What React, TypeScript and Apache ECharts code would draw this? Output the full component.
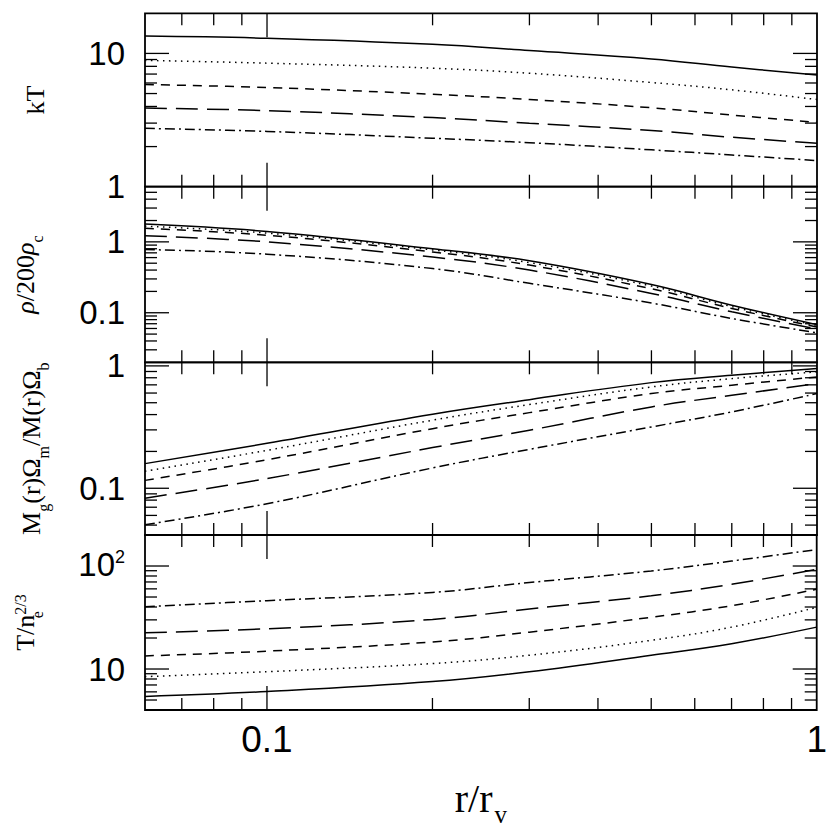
import React, { useEffect, useRef } from "react";
import * as echarts from "echarts";

// ---------- data ----------
const RADIUS = [0.06, 0.1, 0.2, 0.3, 0.5, 0.7, 1.0];

// panel 1 : kT
const KT_SOLID = [13.5, 13.0, 11.7, 10.5, 9.1, 7.9, 6.9];
const KT_DOTTED = [8.87, 8.45, 7.75, 7.1, 6.05, 5.33, 4.51];
const KT_SHORT = [5.84, 5.55, 4.94, 4.51, 3.91, 3.45, 3.04];
const KT_LONG = [3.89, 3.72, 3.3, 2.99, 2.64, 2.35, 2.12];
const KT_DOTDASH = [2.74, 2.6, 2.31, 2.14, 1.89, 1.73, 1.57];

// panel 2 : rho / 200 rho_c
const RHO_SOLID = [1.78, 1.4, 0.8, 0.54, 0.25, 0.128, 0.068];
const RHO_DOTTED = [1.66, 1.33, 0.77, 0.51, 0.238, 0.122, 0.066];
const RHO_SHORT = [1.55, 1.24, 0.72, 0.47, 0.218, 0.115, 0.063];
const RHO_LONG = [1.22, 1.0, 0.61, 0.4, 0.187, 0.103, 0.059];
const RHO_DOTDASH = [0.78, 0.67, 0.42, 0.26, 0.137, 0.083, 0.052];

// panel 3 : gas fraction
const FG_SOLID = [0.159, 0.233, 0.403, 0.53, 0.73, 0.84, 0.95];
const FG_DOTTED = [0.138, 0.204, 0.36, 0.483, 0.673, 0.787, 0.893];
const FG_SHORT = [0.116, 0.171, 0.307, 0.415, 0.594, 0.695, 0.813];
const FG_LONG = [0.083, 0.12, 0.215, 0.298, 0.462, 0.575, 0.716];
const FG_DOTDASH = [0.0504, 0.0748, 0.1466, 0.208, 0.317, 0.421, 0.594];

// panel 4 : entropy T / n_e^{2/3}
const ENT_SOLID = [5.42, 6.05, 7.55, 9.42, 13.6, 17.6, 25.5];
const ENT_DOTTED = [8.43, 9.42, 11.3, 13.6, 19.0, 25.5, 39.7];
const ENT_SHORT = [13.4, 14.9, 18.3, 22.8, 31.8, 41.2, 59.6];
const ENT_LONG = [22.5, 24.6, 30.3, 38.3, 51.5, 66.5, 92.8];
const ENT_DOTDASH = [40.3, 46.1, 55.4, 69.1, 89.5, 111.7, 144.5];

// axes
const X_MIN = 0.06;
const X_MAX = 1;
const X_MAJOR = [0.1];
const X_MINOR = [0.07, 0.08, 0.09, 0.2, 0.3, 0.4, 0.5, 0.6, 0.7, 0.8, 0.9];
const X_LABEL_VALUES = [0.1, 1];
const X_LABEL_TEXTS = ["0.1", "1"];

const Y_MIN = [1, 0.02, 0.0415, 4];
const Y_MAX = [20, 6, 1.07, 200];

const KT_MAJOR = [10];
const KT_MINOR = [2, 3, 4, 5, 6, 7, 8, 9];
const KT_LABEL_VALUES = [1, 10];
const KT_LABEL_TEXTS = ["1", "10"];

const RHO_MAJOR = [0.1, 1];
const RHO_MINOR = [0.03, 0.04, 0.05, 0.06, 0.07, 0.08, 0.09, 0.2, 0.3, 0.4, 0.5, 0.6, 0.7, 0.8, 0.9, 2, 3, 4, 5];
const RHO_LABEL_VALUES = [0.1, 1];
const RHO_LABEL_TEXTS = ["0.1", "1"];

const FG_MAJOR = [0.1, 1];
const FG_MINOR = [0.05, 0.06, 0.07, 0.08, 0.09, 0.2, 0.3, 0.4, 0.5, 0.6, 0.7, 0.8, 0.9];
const FG_LABEL_VALUES = [0.1, 1];
const FG_LABEL_TEXTS = ["0.1", "1"];

const ENT_MAJOR = [10, 100];
const ENT_MINOR = [5, 6, 7, 8, 9, 20, 30, 40, 50, 60, 70, 80, 90];
const ENT_LABEL_VALUES = [10, 100];
const ENT_LABEL_TEXTS = ["10", "{a|10}{p|2}"];

const Y_NAMES = [
  "{m|kT}",
  "{i|ρ}{m|/200}{i|ρ}{s|c}",
  "{m|M}{s|g}{m|(r)Ω}{s|m}{m|/M(r)Ω}{s|b}",
  "{m|T/n}{z|e}{p|2/3}",
];

const X_NAME = "{m|r/r}{s|v}";

// ---------- styles ----------
const SANS = "'Liberation Sans', Arial, sans-serif";
const SERIF = "'Liberation Serif', 'Times New Roman', serif";
const GRID_TOP = [13.3, 186.7, 362.3, 535];
const GRID_H = [173.4, 175.6, 172.7, 175];
const LINE_TYPES: any[] = ["solid", [1.5, 4.5], [9, 7], [22, 9], [10, 4, 2, 4]];
const LINE_NAMES = ["solid", "dotted", "short dash", "long dash", "dot-dash"];

const PANELS = [
  { series: [KT_SOLID, KT_DOTTED, KT_SHORT, KT_LONG, KT_DOTDASH], major: KT_MAJOR, minor: KT_MINOR, lv: KT_LABEL_VALUES, lt: KT_LABEL_TEXTS },
  { series: [RHO_SOLID, RHO_DOTTED, RHO_SHORT, RHO_LONG, RHO_DOTDASH], major: RHO_MAJOR, minor: RHO_MINOR, lv: RHO_LABEL_VALUES, lt: RHO_LABEL_TEXTS },
  { series: [FG_SOLID, FG_DOTTED, FG_SHORT, FG_LONG, FG_DOTDASH], major: FG_MAJOR, minor: FG_MINOR, lv: FG_LABEL_VALUES, lt: FG_LABEL_TEXTS },
  { series: [ENT_SOLID, ENT_DOTTED, ENT_SHORT, ENT_LONG, ENT_DOTDASH], major: ENT_MAJOR, minor: ENT_MINOR, lv: ENT_LABEL_VALUES, lt: ENT_LABEL_TEXTS },
];

const NAME_GAPS = [93, 103, 97, 103];

function labelFor(values: number[], texts: string[]) {
  return (v: number) => {
    for (let i = 0; i < values.length; i++) {
      if (Math.abs(Math.log10(v) - Math.log10(values[i])) < 0.005) return texts[i];
    }
    return "";
  };
}

const nameRich = {
  m: { fontFamily: SERIF, fontSize: 26, lineHeight: 30, verticalAlign: "top", color: "#000" },
  i: { fontFamily: SERIF, fontStyle: "italic", fontSize: 26, lineHeight: 30, verticalAlign: "top", color: "#000" },
  s: { fontFamily: SERIF, fontSize: 16, lineHeight: 16, padding: [17, 0, 0, 0], verticalAlign: "top", color: "#000" },
  z: { fontFamily: SERIF, fontSize: 16, lineHeight: 16, padding: [17, 0, 0, 0], width: 0, verticalAlign: "top", color: "#000" },
  p: { fontFamily: SERIF, fontSize: 16, lineHeight: 16, verticalAlign: "top", color: "#000" },
};

function buildOption() {
  const grid = GRID_TOP.map((t, i) => ({
    left: 145,
    right: 13,
    top: t,
    height: GRID_H[i],
    show: true,
    borderColor: "#000",
    borderWidth: 1.8,
    backgroundColor: "transparent",
  }));

  const xAxis = GRID_TOP.map((_, i) => ({
    type: "log",
    logBase: 10,
    gridIndex: i,
    min: X_MIN,
    max: X_MAX,
    axisLine: { show: false },
    axisTick: { show: false },
    splitLine: { show: false },
    axisLabel: {
      show: i === 3,
      formatter: labelFor(X_LABEL_VALUES, X_LABEL_TEXTS),
      fontFamily: SANS,
      fontSize: 37,
      color: "#000",
      margin: 11,
    },
    name: i === 3 ? X_NAME : "",
    nameLocation: "middle",
    nameGap: 68,
    nameTextStyle: {
      rich: {
        m: { fontFamily: SERIF, fontSize: 40, lineHeight: 44, verticalAlign: "top", color: "#000" },
        s: { fontFamily: SERIF, fontSize: 25, lineHeight: 25, padding: [24, 0, 0, 2], verticalAlign: "top", color: "#000" },
      },
    },
  }));

  const yAxis = PANELS.map((p, i) => ({
    type: "log",
    logBase: 10,
    gridIndex: i,
    min: Y_MIN[i],
    max: Y_MAX[i],
    axisLine: { show: false },
    axisTick: { show: false },
    splitLine: { show: false },
    axisLabel: {
      formatter: labelFor(p.lv, p.lt),
      fontFamily: SANS,
      fontSize: 33,
      color: "#000",
      margin: 20,
      rich: {
        a: { fontFamily: SANS, fontSize: 33, lineHeight: 36, verticalAlign: "top", color: "#000" },
        p: { fontFamily: SANS, fontSize: 18, lineHeight: 18, verticalAlign: "top", color: "#000" },
      },
    },
    name: Y_NAMES[i],
    nameLocation: "middle",
    nameRotate: 90,
    nameGap: NAME_GAPS[i],
    nameTextStyle: { rich: nameRich },
  }));

  const series: any[] = [];
  PANELS.forEach((p, gi) => {
    p.series.forEach((vals, si) => {
      series.push({
        type: "line",
        name: LINE_NAMES[si],
        xAxisIndex: gi,
        yAxisIndex: gi,
        data: RADIUS.map((r, k) => [r, vals[k]]),
        showSymbol: false,
        smooth: 0.4,
        lineStyle: { color: "#000", width: 1.5, type: LINE_TYPES[si] },
        silent: true,
        z: 2,
      });
    });

    // y ticks (left and right)
    series.push({
      type: "custom",
      xAxisIndex: gi,
      yAxisIndex: gi,
      silent: true,
      z: 3,
      data: [...p.major.map((v) => [X_MIN, v, 1]), ...p.minor.map((v) => [X_MIN, v, 0])],
      renderItem: (params: any, api: any) => {
        const cs = params.coordSys;
        const pt = api.coord([api.value(0), api.value(1)]);
        const len = api.value(2) === 1 ? 24 : 12;
        const st = { stroke: "#000", lineWidth: 1.3 };
        return {
          type: "group",
          children: [
            { type: "line", shape: { x1: cs.x, y1: pt[1], x2: cs.x + len, y2: pt[1] }, style: st },
            { type: "line", shape: { x1: cs.x + cs.width - len, y1: pt[1], x2: cs.x + cs.width, y2: pt[1] }, style: st },
          ],
        };
      },
    });

    // x ticks (top and bottom)
    series.push({
      type: "custom",
      xAxisIndex: gi,
      yAxisIndex: gi,
      silent: true,
      z: 3,
      data: [...X_MAJOR.map((v) => [v, Y_MIN[gi], 1]), ...X_MINOR.map((v) => [v, Y_MIN[gi], 0])],
      renderItem: (params: any, api: any) => {
        const cs = params.coordSys;
        const pt = api.coord([api.value(0), api.value(1)]);
        const len = api.value(2) === 1 ? 24 : 12;
        const st = { stroke: "#000", lineWidth: 1.3 };
        return {
          type: "group",
          children: [
            { type: "line", shape: { x1: pt[0], y1: cs.y + cs.height, x2: pt[0], y2: cs.y + cs.height - len }, style: st },
            { type: "line", shape: { x1: pt[0], y1: cs.y, x2: pt[0], y2: cs.y + len }, style: st },
          ],
        };
      },
    });
  });

  return {
    animation: false,
    backgroundColor: "#fff",
    grid,
    xAxis,
    yAxis,
    series,
  };
}

export default function App() {
  const ref = useRef<HTMLDivElement>(null);
  useEffect(() => {
    if (!ref.current) return;
    const chart = echarts.init(ref.current, undefined, { renderer: "svg" });
    chart.setOption(buildOption() as any);
    return () => chart.dispose();
  }, []);
  return (
    <div
      ref={ref}
      style={{ position: "absolute", left: 0, top: 0, width: 830, height: 830, background: "#fff" }}
    />
  );
}
